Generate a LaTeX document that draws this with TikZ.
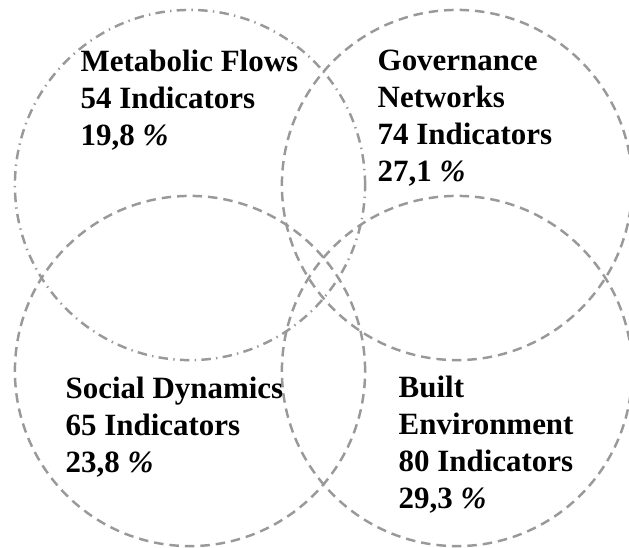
\documentclass[tikz,border=0pt]{standalone}
\usepackage{fontspec}
\setmainfont{Liberation Serif}
\newcommand{\pct}{\textit{\%}}

\begin{document}
\begin{tikzpicture}[x=0.01cm, y=-0.01cm,
    ring/.style={draw=gray!80, line width=0.7pt},
    dashring/.style={ring, dash pattern=on 2.7pt off 1.7pt},
    dotring/.style={ring, dash pattern=on 2.7pt off 1.5pt on 0.4pt off 1.5pt},
    areatext/.style={anchor=base west, align=left, inner sep=0pt,
        font=\fontsize{8.8}{10.45}\selectfont\bfseries}]
    \useasboundingbox (0, 0) rectangle (629, 547);

    % Four overlapping domains (centre x/y in px)
    \draw[dotring] (190, 185) circle [radius=1.75cm];
    \foreach \cx/\cy in {457/185, 190/371, 457/371} {
        \draw[dashring] (\cx, \cy) circle [radius=1.75cm];
    }

    % Domain labels (anchored on the baseline of the last line)
    \node[areatext] (metab) at (80, 145)  {Metabolic Flows\\54 Indicators\\19,8 \pct};
    \node[areatext] (gov)   at (377, 181) {Governance\\Networks\\74 Indicators\\27,1 \pct};
    \node[areatext] (soc)   at (65, 472)  {Social Dynamics\\65 Indicators\\23,8 \pct};
    \node[areatext] (built) at (398, 508) {Built\\Environment\\80 Indicators\\29,3 \pct};
\end{tikzpicture}
\end{document}
